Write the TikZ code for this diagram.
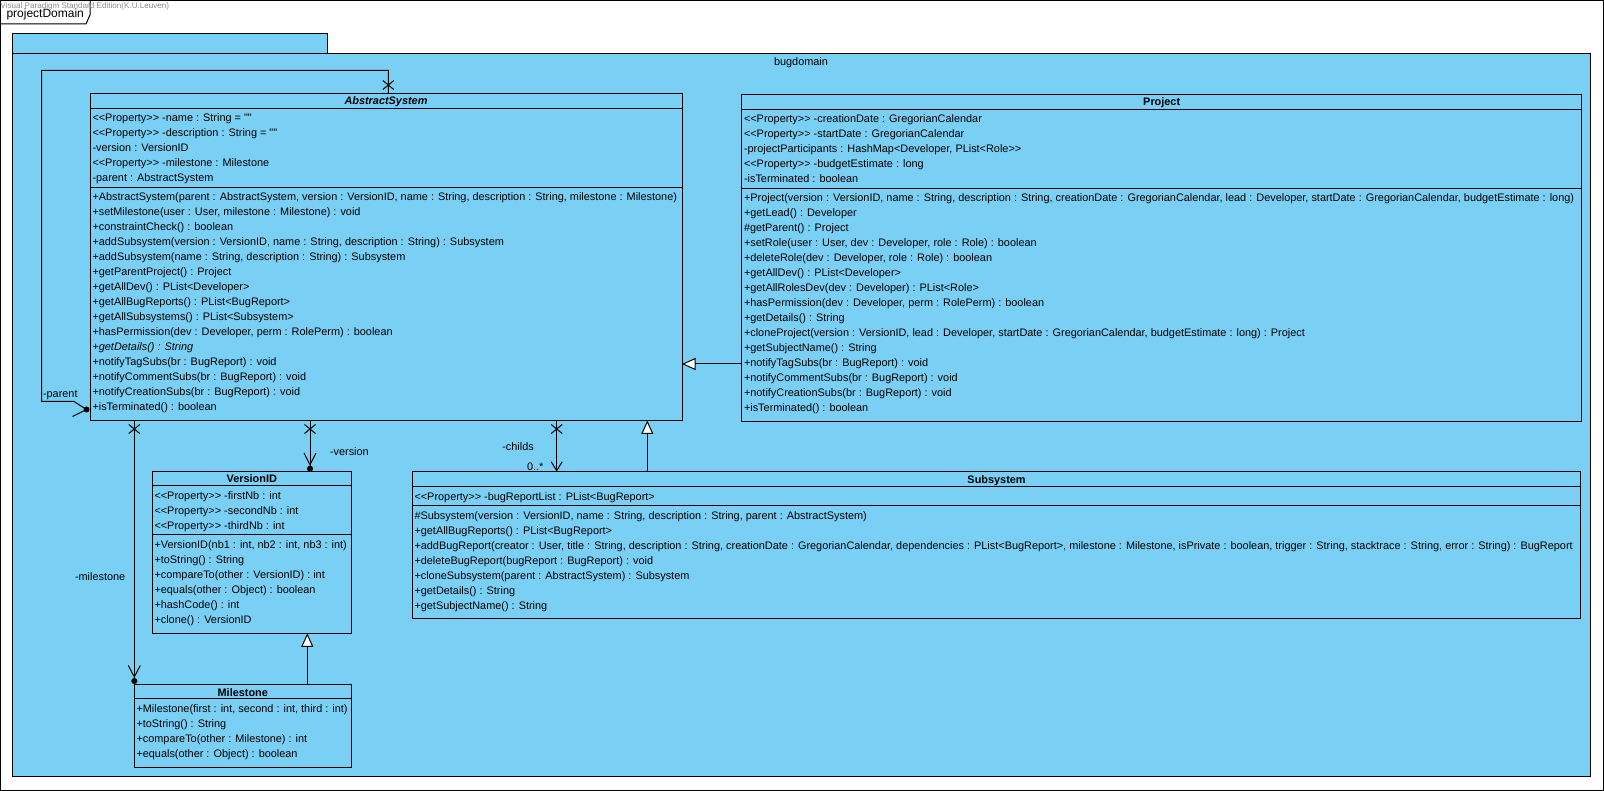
\documentclass[tikz,border=0pt]{standalone}
\usepackage{fontspec}
\setmainfont{Liberation Sans}[Ligatures=TeXOff]
\usetikzlibrary{arrows.meta,calc}
\definecolor{vpblue}{RGB}{122,207,245}
\definecolor{wmgray}{RGB}{140,140,140}

\newcommand\umlfont{\fontsize{10.9}{13}\selectfont}
\tikzset{
  cls/.style={draw=black, fill=vpblue, line width=1pt, inner sep=0pt, outer sep=0pt},
  row/.style={anchor=base west, inner sep=0pt, outer sep=0pt, font=\umlfont},
  head/.style={anchor=base, inner sep=0pt, outer sep=0pt, font=\umlfont\bfseries},
  sepline/.style={line width=1pt},
  own/.style={line width=1pt, -{Straight Barb[length=11.5pt,width=12pt] Circle[length=6pt]}},
  nav/.style={line width=1pt, -{Straight Barb[length=9pt,width=11pt]}},
  gen/.style={line width=1pt, -{Triangle[length=13.5pt,width=12pt,fill=white]}},
  xmk/.pic={\draw[line width=1pt] (-5.5,-4.5) -- (5.5,4.5) (-5.5,4.5) -- (5.5,-4.5);}
}

% one text line per entry, 15pt apart: x, first baseline, name prefix, entries
\newcommand\classrows[4]{%
  \foreach \t [count=\i from 0] in {#4} {
    \node[row, name=#3\i] at (#1,{#2+15*\i}) {\t};
  }}

\begin{document}
\begin{tikzpicture}[x=1pt,y=-1pt]
\clip (0,0) rectangle (1604,791);

% diagram frame with its name tab
\node[draw=black, fill=white, line width=1pt, inner sep=0pt, minimum width=1603pt, minimum height=790pt] (frame) at (802,395.5) {};
\draw[line width=1pt] (frame.north west) -| (90,15) -- (86,24) -- (frame.west |- 0,24);
\node[row, font=\fontsize{12}{14}\selectfont] (frametitle) at (6.5,18) {projectDomain};
\node[row, font=\fontsize{8.1}{9}\selectfont, text=wmgray] (edition) at (0.5,9) {Visual Paradigm Standard Edition(K.U.Leuven)};

% package bugdomain
\node[cls, minimum width=315pt, minimum height=20pt] (pkgtab) at (169.5,44) {};
\node[cls, minimum width=1578pt, minimum height=722pt] (pkg) at (801,415) {};
\node[anchor=base, inner sep=0pt, font=\umlfont] (pkgname) at (801,66) {bugdomain};

% ---- AbstractSystem
\node[cls, minimum width=592pt, minimum height=327pt] (abs) at (386,257) {};
\draw[sepline] ($(abs.north west)+(0,15)$) -- ($(abs.north east)+(0,15)$);
\draw[sepline] ($(abs.north west)+(0,94)$) -- ($(abs.north east)+(0,94)$);
\node[head, font=\umlfont\bfseries\itshape] (absname) at (386,105) {AbstractSystem};
\classrows{92.5}{122}{absa}{
  {<<Property>> -name : String = ""},
  {<<Property>> -description : String = ""},
  {-version : VersionID},
  {<<Property>> -milestone : Milestone},
  {-parent : AbstractSystem}}
\classrows{92.5}{201}{absm}{
  {+AbstractSystem(parent : AbstractSystem, version : VersionID, name : String, description : String, milestone : Milestone)},
  {+setMilestone(user : User, milestone : Milestone) : void},
  {+constraintCheck() : boolean},
  {+addSubsystem(version : VersionID, name : String, description : String) : Subsystem},
  {+addSubsystem(name : String, description : String) : Subsystem},
  {+getParentProject() : Project},
  {+getAllDev() : PList<Developer>},
  {+getAllBugReports() : PList<BugReport>},
  {+getAllSubsystems() : PList<Subsystem>},
  {+hasPermission(dev : Developer, perm : RolePerm) : boolean},
  {+\textit{getDetails() : String}},
  {+notifyTagSubs(br : BugReport) : void},
  {+notifyCommentSubs(br : BugReport) : void},
  {+notifyCreationSubs(br : BugReport) : void},
  {+isTerminated() : boolean}}

% ---- Project
\node[cls, minimum width=840pt, minimum height=327pt] (proj) at (1161.7,258) {};
\draw[sepline] ($(proj.north west)+(0,15)$) -- ($(proj.north east)+(0,15)$);
\draw[sepline] ($(proj.north west)+(0,94)$) -- ($(proj.north east)+(0,94)$);
\node[head] (projname) at (1161.7,106) {Project};
\classrows{744}{123}{proja}{
  {<<Property>> -creationDate : GregorianCalendar},
  {<<Property>> -startDate : GregorianCalendar},
  {-projectParticipants : HashMap<Developer, PList<Role>>},
  {<<Property>> -budgetEstimate : long},
  {-isTerminated : boolean}}
\classrows{744}{202}{projm}{
  {+Project(version : VersionID, name : String, description : String, creationDate : GregorianCalendar, lead : Developer, startDate : GregorianCalendar, budgetEstimate : long)},
  {+getLead() : Developer},
  {\#getParent() : Project},
  {+setRole(user : User, dev : Developer, role : Role) : boolean},
  {+deleteRole(dev : Developer, role : Role) : boolean},
  {+getAllDev() : PList<Developer>},
  {+getAllRolesDev(dev : Developer) : PList<Role>},
  {+hasPermission(dev : Developer, perm : RolePerm) : boolean},
  {+getDetails() : String},
  {+cloneProject(version : VersionID, lead : Developer, startDate : GregorianCalendar, budgetEstimate : long) : Project},
  {+getSubjectName() : String},
  {+notifyTagSubs(br : BugReport) : void},
  {+notifyCommentSubs(br : BugReport) : void},
  {+notifyCreationSubs(br : BugReport) : void},
  {+isTerminated() : boolean}}

% ---- VersionID
\node[cls, minimum width=199pt, minimum height=161.6pt] (ver) at (251.8,552.5) {};
\draw[sepline] ($(ver.north west)+(0,13.8)$) -- ($(ver.north east)+(0,13.8)$);
\draw[sepline] ($(ver.north west)+(0,62.8)$) -- ($(ver.north east)+(0,62.8)$);
\node[head] (vername) at (251.8,482.5) {VersionID};
\classrows{154.5}{499}{vera}{
  {<<Property>> -firstNb : int},
  {<<Property>> -secondNb : int},
  {<<Property>> -thirdNb : int}}
\classrows{154.5}{548}{verm}{
  {+VersionID(nb1 : int, nb2 : int, nb3 : int)},
  {+toString() : String},
  {+compareTo(other : VersionID) : int},
  {+equals(other : Object) : boolean},
  {+hashCode() : int},
  {+clone() : VersionID}}

% ---- Milestone
\node[cls, minimum width=217pt, minimum height=83.3pt] (mil) at (242.8,725.65) {};
\draw[sepline] ($(mil.north west)+(0,14.3)$) -- ($(mil.north east)+(0,14.3)$);
\node[head] (milname) at (242.8,696) {Milestone};
\classrows{136.5}{712}{milm}{
  {+Milestone(first : int, second : int, third : int)},
  {+toString() : String},
  {+compareTo(other : Milestone) : int},
  {+equals(other : Object) : boolean}}

% ---- Subsystem
\node[cls, minimum width=1167.9pt, minimum height=146.3pt] (sub) at (996.55,544.85) {};
\draw[sepline] ($(sub.north west)+(0,15)$) -- ($(sub.north east)+(0,15)$);
\draw[sepline] ($(sub.north west)+(0,33.8)$) -- ($(sub.north east)+(0,33.8)$);
\node[head] (subname) at (996.55,483) {Subsystem};
\classrows{414.5}{500}{suba}{
  {<<Property>> -bugReportList : PList<BugReport>}}
\classrows{414.5}{519}{subm}{
  {\#Subsystem(version : VersionID, name : String, description : String, parent : AbstractSystem)},
  {+getAllBugReports() : PList<BugReport>},
  {+addBugReport(creator : User, title : String, description : String, creationDate : GregorianCalendar, dependencies : PList<BugReport>, milestone : Milestone, isPrivate : boolean, trigger : String, stacktrace : String, error : String) : BugReport},
  {+deleteBugReport(bugReport : BugReport) : void},
  {+cloneSubsystem(parent : AbstractSystem) : Subsystem},
  {+getDetails() : String},
  {+getSubjectName() : String}}

% ---- generalizations
\coordinate (gy) at (0,364);
\draw[gen] (proj.west |- gy) -- (abs.east |- gy);
\coordinate (sgx) at (647.3,0);
\draw[gen] (sub.north -| sgx) -- (abs.south -| sgx);
\coordinate (mgx) at (307.3,0);
\draw[gen] (mil.north -| mgx) -- (ver.south -| mgx);

% ---- associations
\coordinate (vx) at (310,0);
\draw[own] (abs.south -| vx) -- (ver.north -| vx);
\pic at ($(abs.south -| vx)+(0,8.5)$) {xmk};

\coordinate (mx) at (134.3,0);
\draw[own] (abs.south -| mx) -- (mil.north -| mx);
\pic at ($(abs.south -| mx)+(0,8.5)$) {xmk};

\coordinate (cx) at (556.7,0);
\draw[nav] (abs.south -| cx) -- (sub.north -| cx);
\pic at ($(abs.south -| cx)+(0,8.5)$) {xmk};

% parent: AbstractSystem to itself
\coordinate (ptx) at (388.3,0);
\coordinate (pdot) at ($(abs.south west)+(-3.5,-11)$);
\draw[line width=1pt] (abs.north -| ptx) |- (41.5,70.5) |- (74,401.5) -- (pdot);
\draw[line width=1pt] (pdot) -- ++(-14,7);
\fill (pdot) circle (3);
\pic at ($(abs.north -| ptx)+(0,-8.5)$) {xmk};

% ---- role names and multiplicity
\node[row] (lparent) at (43,397.5) {-parent};
\node[row] (lversion) at (330,455.5) {-version};
\node[row] (lmilestone) at (75,580) {-milestone};
\node[row] (lchilds) at (502.3,450.5) {-childs};
\node[row] (lmult) at (527,470.5) {0..*};
\end{tikzpicture}
\end{document}
